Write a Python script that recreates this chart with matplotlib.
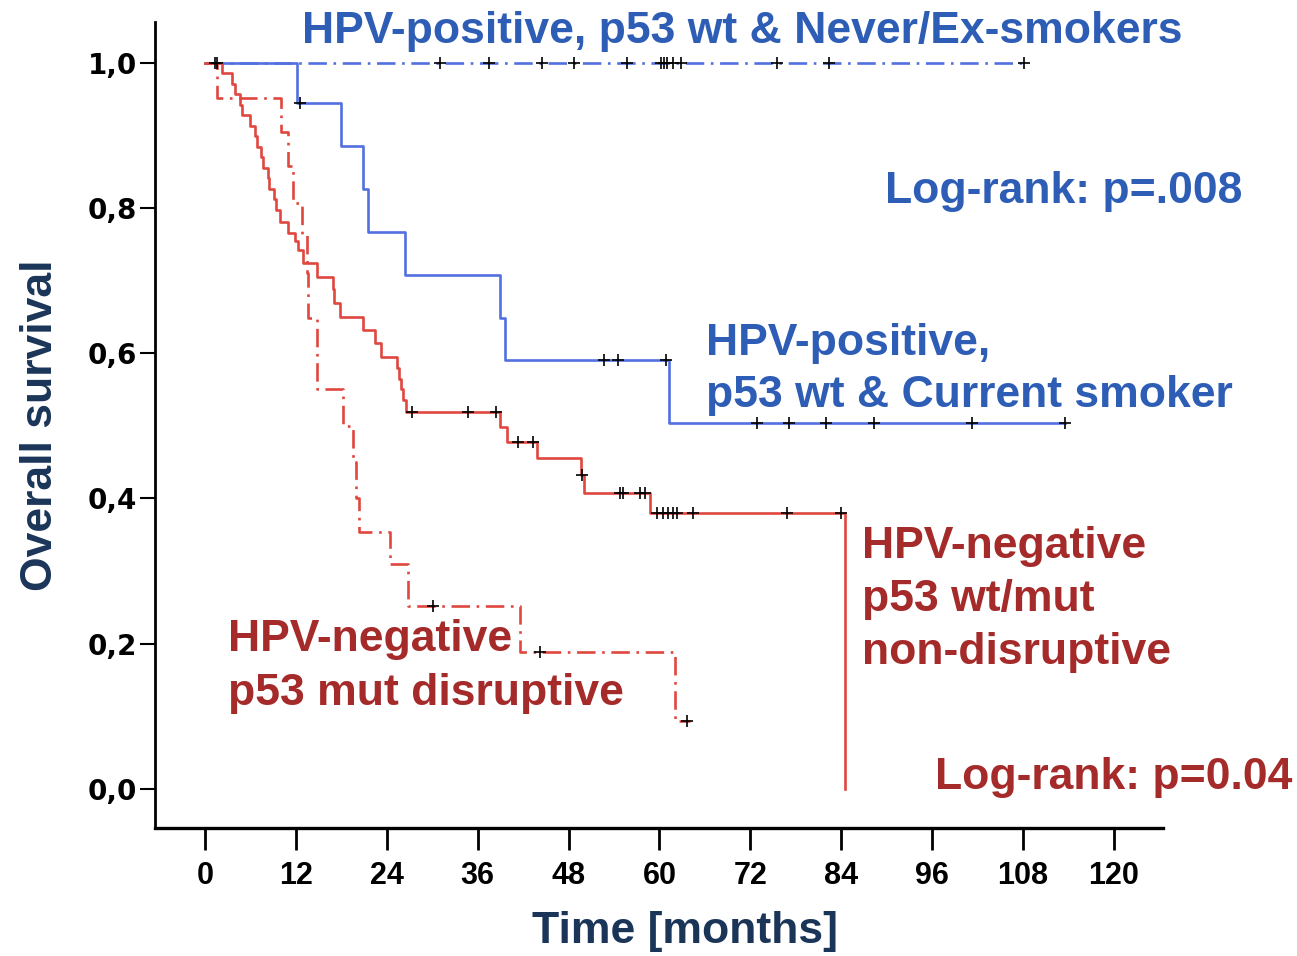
import numpy as np
import matplotlib
matplotlib.use("Agg")
import matplotlib.pyplot as plt

# HPV-positive, p53 wt & Never/Ex-smokers (no events)
never_end = 108.1
never_censor = [1.6, 31.0, 37.5, 44.5, 48.7, 55.7, 60.2, 60.6, 61.0, 61.8, 62.8,
                75.5, 82.4, 108.1]

# HPV-positive, p53 wt & Current smoker
current_t = [0, 12.1, 18.0, 20.8, 21.5, 26.4, 38.9, 39.6, 61.3]
current_s = [1.0, 0.944, 0.885, 0.826, 0.767, 0.708, 0.649, 0.590, 0.504]
current_end = 113.5
current_censor = [12.5, 52.7, 54.5, 60.9, 72.9, 77.1, 82.0, 88.3, 101.3, 113.5]

# HPV-negative, p53 wt/mut non-disruptive
nondis_t = [0, 2.3, 3.6, 4.0, 4.6, 4.9, 6.0, 6.6, 6.9, 7.4, 7.6, 8.3, 8.5, 9.1,
            9.4, 9.9, 11.0, 11.9, 12.3, 12.9, 14.8, 16.9, 17.1, 17.8, 20.8, 22.4,
            23.2, 25.3, 25.6, 25.9, 26.2, 26.6, 39.0, 39.9, 43.8, 49.7, 50.0,
            58.7, 84.5]
nondis_s = [1.0, 0.986, 0.971, 0.957, 0.942, 0.928, 0.913, 0.899, 0.884, 0.870,
            0.855, 0.841, 0.826, 0.812, 0.797, 0.781, 0.766, 0.754, 0.742, 0.724,
            0.705, 0.688, 0.669, 0.650, 0.632, 0.614, 0.594, 0.580, 0.565, 0.550,
            0.535, 0.519, 0.498, 0.477, 0.456, 0.432, 0.408, 0.380, 0.0]
nondis_censor = [1.3, 27.3, 34.7, 38.4, 41.3, 43.3, 49.8, 54.8, 55.2, 57.4, 58.1,
                 59.7, 60.5, 61.1, 61.8, 62.3, 64.4, 76.8, 84.0]

# HPV-negative, p53 mut disruptive
dis_t = [0, 1.6, 10.1, 11.0, 11.6, 12.8, 13.5, 13.6, 14.8, 18.2, 19.6, 20.0,
         20.4, 24.4, 26.8, 41.6, 62.0]
dis_s = [1.0, 0.952, 0.905, 0.857, 0.807, 0.762, 0.710, 0.649, 0.551, 0.500,
         0.450, 0.400, 0.353, 0.309, 0.252, 0.189, 0.094]
dis_end = 64.0
dis_censor = [30.1, 44.2, 63.6]

x_ticks = [0, 12, 24, 36, 48, 60, 72, 84, 96, 108, 120]
y_ticks = [0.0, 0.2, 0.4, 0.6, 0.8, 1.0]
y_ticklabels = ["0,0", "0,2", "0,4", "0,6", "0,8", "1,0"]

BLUE_LINE = "#5270DF"
RED_LINE = "#E0473F"
BLUE_TEXT = "#2D5DB5"
RED_TEXT = "#A52A2A"
NAVY = "#1B3559"
FONT = "Liberation Sans"


def surv_at(times, surv, when):
    idx = np.searchsorted(times, when, side="right") - 1
    return np.asarray(surv)[idx]


def draw_curve(ax, times, surv, end, censor, color, dashed):
    t = list(times) + ([end] if end > times[-1] else [])
    s = list(surv) + ([surv[-1]] if end > times[-1] else [])
    line, = ax.step(t, s, where="post", color=color, linewidth=1.9)
    if dashed:
        line.set_dashes((7, 2.5, 1, 2.5))
    ax.plot(censor, surv_at(times, surv, censor), linestyle="none", marker="+",
            color="black", markersize=8, markeredgewidth=1.2, zorder=5)


fig = plt.figure(figsize=(12.97, 9.56), dpi=100)
ax = fig.add_axes([0.1195, 0.1339, 0.7772, 0.8431])

draw_curve(ax, [0], [1.0], never_end, never_censor, BLUE_LINE, True)
draw_curve(ax, current_t, current_s, current_end, current_censor, BLUE_LINE, False)
draw_curve(ax, nondis_t, nondis_s, nondis_t[-1], nondis_censor, RED_LINE, False)
draw_curve(ax, dis_t, dis_s, dis_end, dis_censor, RED_LINE, True)

ax.set_xlim(-6.6, 126.5)
ax.set_ylim(-0.054, 1.056)
ax.spines["top"].set_visible(False)
ax.spines["right"].set_visible(False)
ax.spines["left"].set_linewidth(2.0)
ax.spines["bottom"].set_linewidth(2.4)

ax.set_xticks(x_ticks)
ax.set_xticklabels([str(v) for v in x_ticks],
                   fontdict={"family": FONT, "weight": "bold", "size": 22})
ax.set_yticks(y_ticks)
ax.set_yticklabels(y_ticklabels,
                   fontdict={"family": "DejaVu Sans", "weight": "bold", "size": 20})
ax.tick_params(axis="x", direction="out", length=16, width=2, pad=8)
ax.tick_params(axis="y", direction="out", length=11, width=1.5, pad=2)

ax.set_xlabel("Time [months]", family=FONT, weight="bold", size=32, color=NAVY,
              va="center")
ax.xaxis.set_label_coords(0.526, -0.129)
ax.set_ylabel("Overall survival", family=FONT, weight="bold", size=32, color=NAVY,
              va="center")
ax.yaxis.set_label_coords(-0.114, 0.5)

big = dict(family=FONT, weight="bold", size=32, clip_on=False)
ax.text(71.0, 1.043, "HPV-positive, p53 wt & Never/Ex-smokers", color=BLUE_TEXT,
        ha="center", va="center", **big)
ax.text(89.8, 0.822, "Log-rank: p=.008", color=BLUE_TEXT, ha="left", va="center", **big)
ax.text(66.1, 0.613, "HPV-positive,", color=BLUE_TEXT, ha="left", va="center", **big)
ax.text(66.1, 0.541, "p53 wt & Current smoker", color=BLUE_TEXT, ha="left",
        va="center", **big)
ax.text(86.7, 0.333, "HPV-negative", color=RED_TEXT, ha="left", va="center", **big)
ax.text(86.7, 0.260, "p53 wt/mut", color=RED_TEXT, ha="left", va="center", **big)
ax.text(86.7, 0.187, "non-disruptive", color=RED_TEXT, ha="left", va="center", **big)
ax.text(96.4, 0.016, "Log-rank: p=0.04", color=RED_TEXT, ha="left", va="center", **big)
ax.text(3.0, 0.205, "HPV-negative", color=RED_TEXT, ha="left", va="center", **big)
ax.text(3.0, 0.131, "p53 mut disruptive", color=RED_TEXT, ha="left", va="center", **big)

fig.savefig("out.png", dpi=100)
plt.close(fig)
